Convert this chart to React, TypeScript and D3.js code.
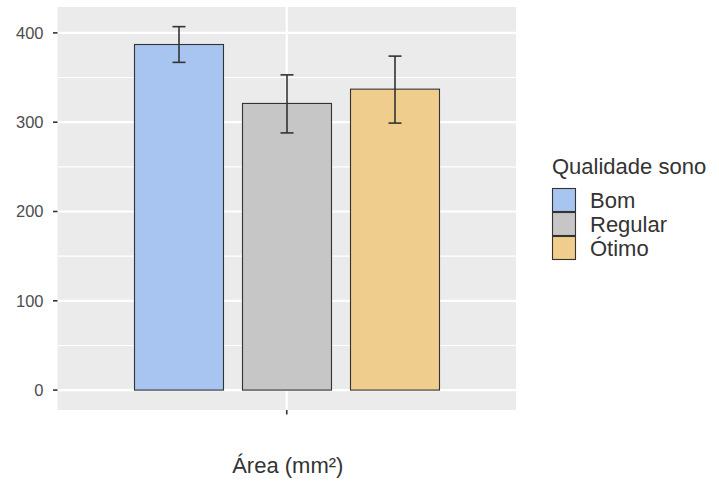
import React, { useEffect, useRef } from 'react';
import * as d3 from 'd3';

const groups = ['Bom', 'Regular', 'Ótimo'];
const means = [387, 321, 337];
const lower = [367, 288, 299];
const upper = [407, 353, 374];
const colors = ['#A7C5F0', '#C6C6C6', '#EFCD8D'];
const yTicks = [0, 100, 200, 300, 400];
const yMinor = [50, 150, 250, 350];

const font = '"Liberation Sans", Arial, sans-serif';

export default function App() {
  const ref = useRef<SVGSVGElement>(null);

  useEffect(() => {
    const svg = d3.select(ref.current);
    svg.selectAll('*').remove();

    const left = 57.5, right = 516, top = 7, bottom = 410;

    const y = d3.scaleLinear().domain([-22.3, 429]).range([bottom, top]);
    const x = d3.scaleBand().domain(groups).range([134.5, 439.5]).paddingInner(0.176);
    const xCenter = (left + right) / 2;

    // panel
    svg.append('rect')
      .attr('x', left).attr('y', top)
      .attr('width', right - left).attr('height', bottom - top)
      .attr('fill', '#EBEBEB');

    svg.selectAll('.minor').data(yMinor).enter().append('line')
      .attr('x1', left).attr('x2', right)
      .attr('y1', d => y(d)).attr('y2', d => y(d))
      .attr('stroke', '#fff').attr('stroke-width', 1.1);

    svg.selectAll('.major').data(yTicks).enter().append('line')
      .attr('x1', left).attr('x2', right)
      .attr('y1', d => y(d)).attr('y2', d => y(d))
      .attr('stroke', '#fff').attr('stroke-width', 2.2);

    svg.append('line')
      .attr('x1', xCenter).attr('x2', xCenter)
      .attr('y1', top).attr('y2', bottom)
      .attr('stroke', '#fff').attr('stroke-width', 2.2);

    // bars
    svg.selectAll('.bar').data(groups).enter().append('rect')
      .attr('x', d => x(d)!)
      .attr('width', x.bandwidth())
      .attr('y', (d, i) => y(means[i]))
      .attr('height', (d, i) => y(0) - y(means[i]))
      .attr('fill', (d, i) => colors[i])
      .attr('stroke', '#333').attr('stroke-width', 1.1);

    // error bars
    const cap = 6.5;
    const eb = svg.selectAll('.eb').data(groups).enter().append('g')
      .attr('stroke', '#333').attr('stroke-width', 1.6);
    eb.append('line')
      .attr('x1', d => x(d)! + x.bandwidth() / 2).attr('x2', d => x(d)! + x.bandwidth() / 2)
      .attr('y1', (d, i) => y(lower[i])).attr('y2', (d, i) => y(upper[i]));
    eb.append('line')
      .attr('x1', d => x(d)! + x.bandwidth() / 2 - cap).attr('x2', d => x(d)! + x.bandwidth() / 2 + cap)
      .attr('y1', (d, i) => y(lower[i])).attr('y2', (d, i) => y(lower[i]));
    eb.append('line')
      .attr('x1', d => x(d)! + x.bandwidth() / 2 - cap).attr('x2', d => x(d)! + x.bandwidth() / 2 + cap)
      .attr('y1', (d, i) => y(upper[i])).attr('y2', (d, i) => y(upper[i]));

    // y axis ticks and labels
    svg.selectAll('.ytick').data(yTicks).enter().append('line')
      .attr('x1', left - 4.5).attr('x2', left)
      .attr('y1', d => y(d)).attr('y2', d => y(d))
      .attr('stroke', '#333').attr('stroke-width', 1.6);

    svg.selectAll('.ylab').data(yTicks).enter().append('text')
      .attr('x', 43.5).attr('y', d => y(d))
      .attr('dy', '0.35em')
      .attr('text-anchor', 'end')
      .attr('font-family', font).attr('font-size', 16.5)
      .attr('fill', '#4D4D4D')
      .text(d => d);

    // x tick
    svg.append('line')
      .attr('x1', xCenter).attr('x2', xCenter)
      .attr('y1', bottom).attr('y2', bottom + 4.5)
      .attr('stroke', '#333').attr('stroke-width', 1.6);

    svg.append('text')
      .attr('x', xCenter + 1).attr('y', 473)
      .attr('text-anchor', 'middle')
      .attr('font-family', font).attr('font-size', 22)
      .attr('fill', '#333')
      .text('Área (mm²)');

    // legend
    const lg = svg.append('g');
    lg.append('text')
      .attr('x', 552).attr('y', 174)
      .attr('font-family', font).attr('font-size', 22)
      .attr('fill', '#333')
      .text('Qualidade sono');

    const key = lg.selectAll('.key').data(groups).enter().append('g')
      .attr('transform', (d, i) => `translate(552, ${188 + i * 24})`);
    key.append('rect')
      .attr('x', 0.5).attr('y', 0.5).attr('width', 23).attr('height', 23)
      .attr('fill', (d, i) => colors[i])
      .attr('stroke', '#333').attr('stroke-width', 1.1);
    key.append('text')
      .attr('x', 38).attr('y', 12)
      .attr('dy', '0.36em')
      .attr('font-family', font).attr('font-size', 22)
      .attr('fill', '#333')
      .text(d => d);
  }, []);

  return (
    <svg ref={ref} width={719} height={482}
      style={{ position: 'absolute', left: 0, top: 0, background: '#fff' }} />
  );
}
